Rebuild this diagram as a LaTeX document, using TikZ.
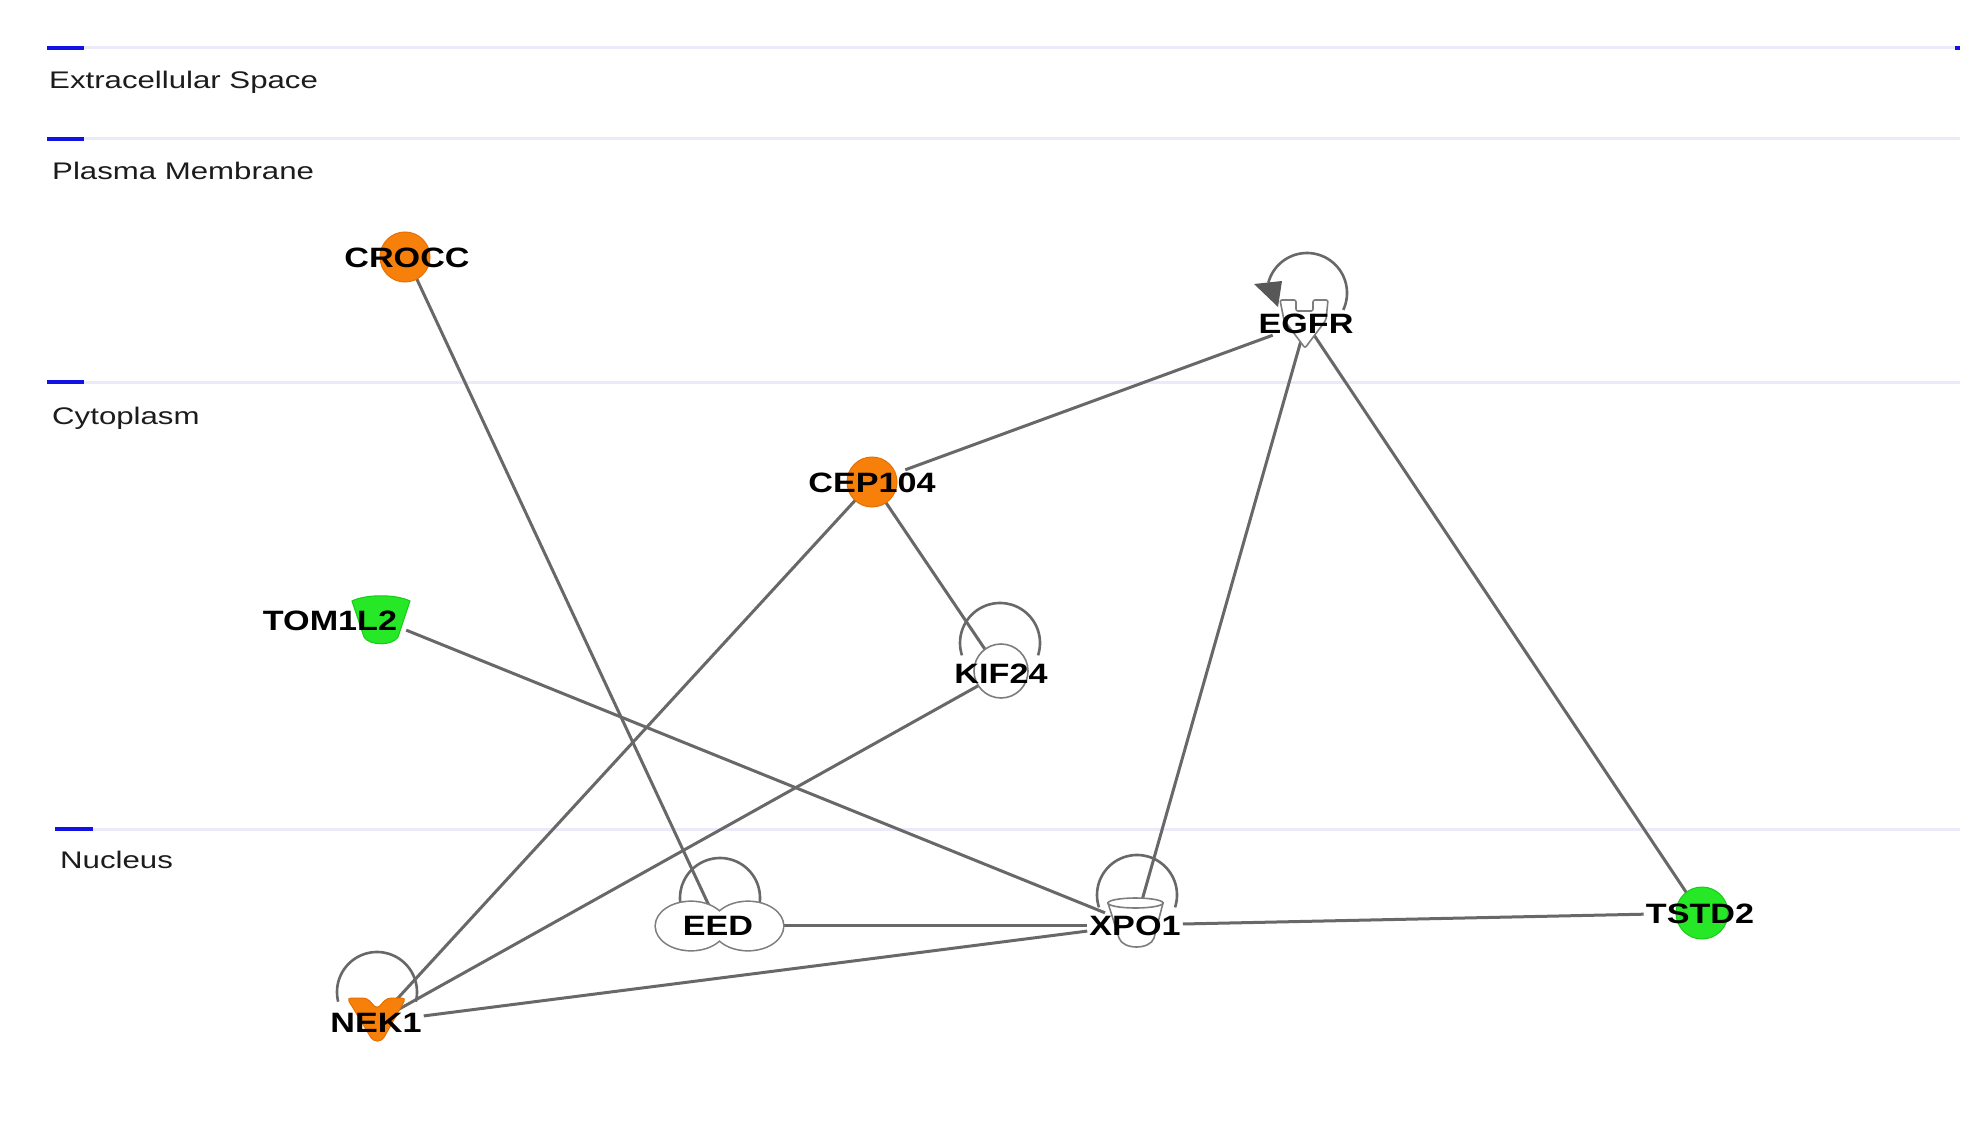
\documentclass[tikz,border=0pt]{standalone}
\usepackage{fontspec}
\setmainfont{Liberation Sans}
\newfontfamily\lblfont[FakeStretch=1.22]{Liberation Sans Bold}
\newfontfamily\compfont[FakeStretch=1.3]{Liberation Sans}
\pgfdeclarelayer{bg}
\pgfdeclarelayer{edges}
\pgfdeclarelayer{shapes}
\pgfsetlayers{bg,edges,shapes,main}
\definecolor{edgegray}{RGB}{104,104,104}
\definecolor{loopgray}{RGB}{104,104,104}
\definecolor{shapegray}{RGB}{125,125,125}
\definecolor{upfill}{RGB}{247,128,10}
\definecolor{updraw}{RGB}{230,112,0}
\definecolor{downfill}{RGB}{38,232,38}
\definecolor{downdraw}{RGB}{22,205,22}
\definecolor{memcol}{RGB}{234,234,249}
\definecolor{memblue}{RGB}{18,18,228}
\definecolor{comptext}{RGB}{28,28,28}
\tikzset{
  gene/.style={font=\lblfont\fontsize{28}{32}\selectfont, inner sep=2pt, text height=20pt, text depth=0pt},
  comp/.style={font=\compfont\fontsize{24}{28}\selectfont, text=comptext, inner sep=0pt, anchor=base west},
  conn/.style={draw=edgegray, line width=3pt},
  selfloop/.style={draw=loopgray, line width=2.6pt},
  upshape/.style={fill=upfill, draw=updraw, line width=1pt},
  downshape/.style={fill=downfill, draw=downdraw, line width=1pt},
  plainshape/.style={fill=white, draw=shapegray, line width=1.6pt},
  memline/.style={draw=memcol, line width=3pt},
  memmark/.style={draw=memblue, line width=4.5pt},
}
\begin{document}
\begin{tikzpicture}[x=1pt, y=-1pt]
\useasboundingbox (0,0) rectangle (1976,1126);

% compartments
\begin{pgfonlayer}{bg}
  \fill[white] (0,0) rectangle (1976,1126);
  \draw[memline] (47,48) -- (1960,48);
  \draw[memmark] (47,48) -- (84,48);
  \draw[memmark] (1955,48) -- (1960,48);
  \draw[memline] (47,139) -- (1960,139);
  \draw[memmark] (47,139) -- (84,139);
  \draw[memline] (47,382) -- (1960,382);
  \draw[memmark] (47,382) -- (84,382);
  \draw[memline] (55,829) -- (1960,829);
  \draw[memmark] (55,829) -- (93,829);
\end{pgfonlayer}
\node[comp] (extra) at (49,89) {Extracellular Space};
\node[comp] (plasma) at (52,180) {Plasma Membrane};
\node[comp] (cyto) at (52,424) {Cytoplasm};
\node[comp] (nuc) at (60,868) {Nucleus};

% gene labels
\node[gene] (crocc) at (407,258) {CROCC};
\node[gene] (egfr) at (1306,323) {EGFR};
\node[gene] (cep104) at (872,482) {CEP104};
\node[gene] (tom1l2) at (330,620) {TOM1L2};
\node[inner sep=0pt, minimum width=50pt, minimum height=44pt] (tom1l2s) at (381,620) {};
\node[gene] (kif24) at (1001,673) {KIF24};
\node[gene] (eed) at (718,925) {EED};
\node[gene] (xpo1) at (1135,925) {XPO1};
\node[gene] (nek1) at (376,1022) {NEK1};
\node[gene] (tstd2) at (1700,913) {TSTD2};

% connectors and self loops
\begin{pgfonlayer}{edges}
  \draw[conn] (crocc) -- (eed);
  \draw[conn] (cep104) -- (egfr);
  \draw[conn] (cep104) -- (kif24);
  \draw[conn] (cep104) -- (nek1);
  \draw[conn] (kif24) -- (nek1);
  \draw[conn] (tom1l2s) -- (xpo1);
  \draw[conn] (egfr) -- (xpo1);
  \draw[conn] (egfr) -- (tstd2);
  \draw[conn] (eed) -- (xpo1);
  \draw[conn] (xpo1) -- (tstd2);
  \draw[conn] (nek1) -- (xpo1);
  % self loops
  \draw[selfloop] plot[domain=195:385, samples=60, smooth] ({1307+40*cos(\x)},{293+40*sin(\x)});
  \fill[loopgray!85!black] (1254,284) -- (1282,281) -- (1278,307) -- cycle;
  \draw[selfloop] plot[domain=162:378, samples=60, smooth] ({1000+40*cos(\x)},{643+40*sin(\x)});
  \draw[selfloop] plot[domain=170:370, samples=60, smooth] ({720+40*cos(\x)},{898+40*sin(\x)});
  \draw[selfloop] plot[domain=162:378, samples=60, smooth] ({1137+40*cos(\x)},{895+40*sin(\x)});
  \draw[selfloop] plot[domain=166:374, samples=60, smooth] ({377+40*cos(\x)},{992+40*sin(\x)});
\end{pgfonlayer}

% node shapes
\begin{pgfonlayer}{shapes}
  \path[upshape] (405,257) circle[radius=25];
  \path[upshape] (872,482) circle[radius=25];
  \path[downshape] (1702,913) circle[radius=26];
  \path[plainshape] (1001,671) circle[radius=27];
  % TOM1L2 cup
  \path[downshape] (352,601) .. controls (366,594) and (396,594) .. (410,601)
     -- (398,637) .. controls (393,646) and (369,646) .. (364,637) -- cycle;
  % XPO1 cup
  \path[plainshape] (1108,903) -- (1119,938) .. controls (1123,950) and (1150,950) .. (1154,938) -- (1163,903) -- cycle;
  \path[plainshape] (1135.5,903) ellipse[x radius=27.5, y radius=5];
  % EED double ellipse
  \draw[draw=shapegray, line width=3.2pt] (691,926) ellipse[x radius=35, y radius=24] (748,926) ellipse[x radius=35, y radius=24];
  \fill[white] (691,926) ellipse[x radius=35, y radius=24] (748,926) ellipse[x radius=35, y radius=24];
  % NEK1 kinase
  \path[upshape, rounded corners=4pt] (347,998) -- (367,998) -- (377,1009) -- (387,998) -- (406,998)
     -- (382,1041) -- (373,1041) -- cycle;
  % EGFR receptor
  \path[plainshape, rounded corners=2pt] (1280,300) -- (1296,300) -- (1296,311) -- (1313,311) -- (1313,300)
     -- (1328,300) -- (1326,320) -- (1305,348) -- (1284,320) -- cycle;
\end{pgfonlayer}
\end{tikzpicture}
\end{document}
